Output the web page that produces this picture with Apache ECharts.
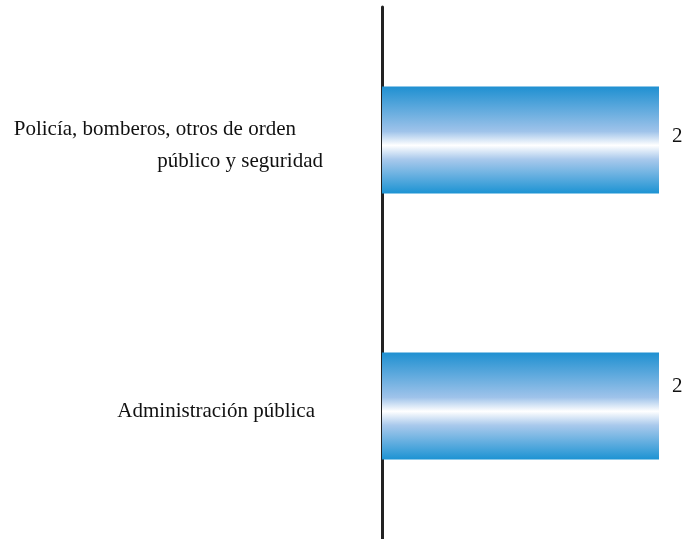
<!DOCTYPE html>
<html>
<head>
<meta charset="utf-8">
<script src="https://cdn.jsdelivr.net/npm/echarts@6/dist/echarts.min.js"></script>
<style>
  html, body { margin: 0; padding: 0; background: #fff; }
  #chart { width: 688px; height: 539px; }
</style>
</head>
<body>
<div id="chart"></div>
<script>
const categories = [
  'Policía, bomberos, otros de orden\npúblico y seguridad',
  'Administración pública'
]
const values = [2, 2]

const chart = echarts.init(document.getElementById('chart'))

// los textos no estan alineados igual en el original
const labelPad = [[0, 27, 0, 0], [0, 8, 0, 0]]
const valueOffset = [[0, -4], [0, -20]]

const barColor = new echarts.graphic.LinearGradient(0, 0, 0, 1, [
  { offset: 0, color: '#1f90d1' },
  { offset: 0.42, color: '#9fc3ea' },
  { offset: 0.55, color: '#ffffff' },
  { offset: 0.68, color: '#a9c9ec' },
  { offset: 1, color: '#1c93d3' }
])

chart.setOption({
  animation: false,
  textStyle: { fontFamily: 'Liberation Serif' },
  grid: { left: 382, right: 29, top: 7, bottom: 0 },
  xAxis: {
    type: 'value',
    min: 0,
    max: 2,
    show: false
  },
  yAxis: {
    type: 'category',
    inverse: true,
    data: categories,
    axisLine: { lineStyle: { color: '#222', width: 3 } },
    axisTick: { show: false },
    axisLabel: {
      margin: 59,
      lineHeight: 32,
      padding: [10, 0, 0, 0],
      formatter: (value, index) => {
        const lines = value.split('\n')
        return lines.map((l, i) => (i === 0 ? `{a${index}|${l}}` : `{b|${l}}`)).join('\n')
      },
      rich: {
        a0: { fontSize: 21, color: '#111', lineHeight: 32, padding: labelPad[0], fontFamily: 'Liberation Serif' },
        a1: { fontSize: 21, color: '#111', lineHeight: 32, padding: labelPad[1], fontFamily: 'Liberation Serif' },
        b: { fontSize: 21, color: '#111', lineHeight: 32, fontFamily: 'Liberation Serif' }
      }
    }
  },
  series: [
    {
      type: 'bar',
      barWidth: 107,
      data: values.map((v, i) => ({
        value: v,
        label: { offset: valueOffset[i] }
      })),
      itemStyle: { color: barColor },
      label: {
        show: true,
        position: 'right',
        distance: 13,
        fontSize: 21,
        color: '#111',
        fontFamily: 'Liberation Serif'
      }
    }
  ]
})
</script>
</body>
</html>
